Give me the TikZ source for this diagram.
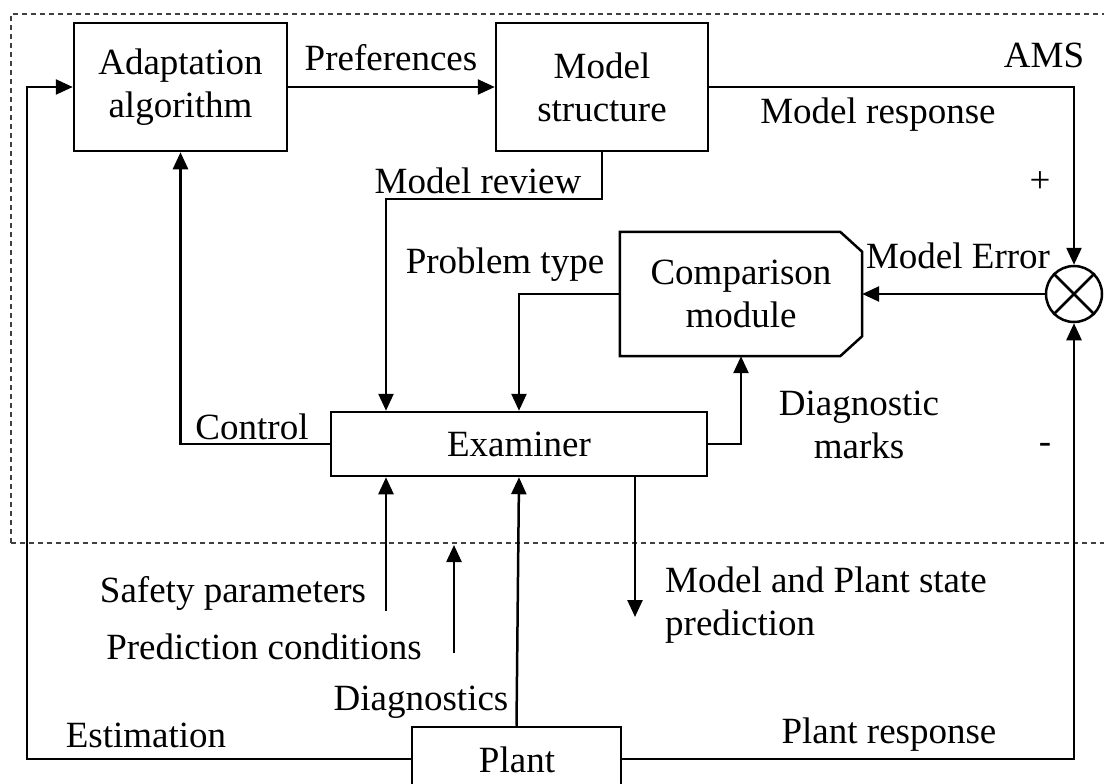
\documentclass[tikz,border=0pt]{standalone}
\usepackage{fontspec}
\setmainfont{Liberation Serif}
\usetikzlibrary{arrows.meta}
\begin{document}
\begin{tikzpicture}[x=1pt,y=-1pt,
  font=\fontsize{37}{43}\selectfont,
  lw/.style={line width=2.5pt},
  box/.style={draw, lw, inner sep=0pt, align=center},
  arr/.style={lw, -{Triangle[length=17pt,width=15pt]}},
  conn/.style={lw},
  lbl/.style={inner sep=0pt, align=center}]
\useasboundingbox (0,0) rectangle (1104,784);
% AMS dashed frame
\draw[line width=1.2pt, black!75, dash pattern=on 5pt off 4pt] (11,543) -- (11,14) -- (1110,14);
\draw[line width=1.2pt, black!75, dash pattern=on 5pt off 4pt] (11,543) -- (1110,543);
% blocks
\node[box, minimum width=213pt, minimum height=128pt] (adapt) at (180.5,87) {Adaptation\\algorithm};
\node[box, minimum width=212pt, minimum height=128pt] (model) at (602,87) {Model\\structure};
\node[lbl, minimum width=242pt, minimum height=124pt] (comp) at (741,294) {Comparison\\module};
\draw[lw] (comp.north west) -- ([xshift=-22pt]comp.north east) -- ([yshift=-20pt]comp.north east)
  -- ([yshift=20pt]comp.south east) -- ([xshift=-22pt]comp.south east) -- (comp.south west) -- cycle;
\node[box, minimum width=376pt, minimum height=64pt] (exam) at (519,444) {Examiner};
\node[box, minimum width=209pt, minimum height=64pt, text depth=0pt] (plant) at (516.5,759) {};
\node[lbl] (plantt) at (517,760) {Plant};
\node[circle, draw, lw, minimum size=56pt, inner sep=0pt] (sum) at (1074,294) {};
\draw[lw] (sum.north west) -- (sum.south east) (sum.north east) -- (sum.south west);
% coordinates
\coordinate (est) at (27,759);
\coordinate (mr) at (386,199);
\coordinate (sp) at (386,611);
\coordinate (pc1) at (454,653);
\coordinate (pc2) at (454,545);
\coordinate (mp) at (635,617);
% connectors
\draw[arr] (adapt) -- (model);
\draw[arr] (model.east) -| (sum.north);
\draw[arr] (sum.west) -- (comp.east);
\draw[arr] (plant.east) -| (sum.south);
\draw[arr] (plant.west) -- (est) |- (adapt.west);
\draw[arr] (model.south) |- (mr) -- (mr |- exam.north);
\draw[arr] (comp.west) -| (exam.north);
\draw[arr] (exam.east) -| (comp.south);
\draw[arr] (exam.west) -| (adapt.south);
\draw[arr] (sp) -- (sp |- exam.south);
\draw[arr] (pc1) -- (pc2);
\draw[arr] (plant.north) -- (exam.south);
\draw[arr] (mp |- exam.south) -- (mp);
% labels
\node[lbl] (l1) at (391,58) {Preferences};
\node[lbl] (l2) at (1044,55) {AMS};
\node[lbl] (l3) at (878,115) {Model response};
\node[lbl] (l4) at (1040,182) {+};
\node[lbl] (l5) at (478,181) {Model review};
\node[lbl] (l6) at (505,265) {Problem type};
\node[lbl] (l7) at (958,256) {Model Error};
\node[lbl] (l8) at (859,425) {Diagnostic\\marks};
\node[lbl] (l9) at (252,427) {Control};
\node[lbl] (l10) at (1045,448) {-};
\node[lbl] (l11) at (233,593) {Safety parameters};
\node[lbl] (l12) at (264,647) {Prediction conditions};
\node[lbl] (l13) at (421,702) {Diagnostics};
\node[lbl] (l14) at (146,735) {Estimation};
\node[lbl, align=left, anchor=west] (l15) at (665,605) {Model and Plant state\\prediction};
\node[lbl] (l16) at (889,735) {Plant response};
\end{tikzpicture}
\end{document}
